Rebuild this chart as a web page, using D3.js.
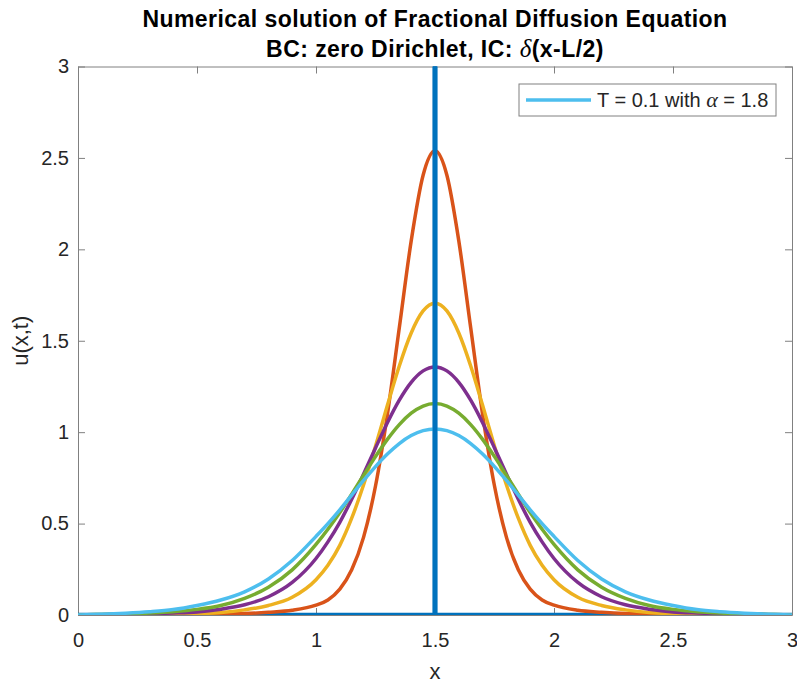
<html lang='en'>
<head>
   <meta charset='UTF-8'>
   <script src='https://d3js.org/d3.v7.min.js'></script>
   <style>
      body{
         margin: 0;
         padding: 0;
         background-color: white;
      }
      text{
         font-family: Arial, 'Liberation Sans', Helvetica, sans-serif;
      }
   </style>
</head>
<body>
   <div id='tavola'></div>
   <script>
   // grid in x and the solution u(x,t) at each time
   var xs = [0, 0.1, 0.2, 0.3, 0.4, 0.5, 0.6, 0.7, 0.8, 0.9, 1, 1.05, 1.1, 1.15, 1.2, 1.25, 1.3, 1.35, 1.4, 1.45, 1.5,
             1.55, 1.6, 1.65, 1.7, 1.75, 1.8, 1.85, 1.9, 1.95, 2, 2.1, 2.2, 2.3, 2.4, 2.5, 2.6, 2.7, 2.8, 2.9, 3];
   var uT002 = [0, 0.0005, 0.001, 0.0016, 0.0024, 0.0034, 0.0052, 0.0079, 0.015, 0.026, 0.054, 0.0823, 0.1415, 0.2471, 0.426, 0.7056, 1.0972, 1.571, 2.0462, 2.405, 2.5391,
                2.405, 2.0462, 1.571, 1.0972, 0.7056, 0.426, 0.2471, 0.1415, 0.0823, 0.054, 0.026, 0.015, 0.0079, 0.0052, 0.0034, 0.0024, 0.0016, 0.001, 0.0005, 0];
   var uT004 = [0, 0.0011, 0.0023, 0.0037, 0.0058, 0.0087, 0.014, 0.028, 0.052, 0.097, 0.193, 0.272, 0.381, 0.5293, 0.7123, 0.9229, 1.1468, 1.3619, 1.5423, 1.6629, 1.7052,
                1.6629, 1.5423, 1.3619, 1.1468, 0.9229, 0.7123, 0.5293, 0.381, 0.272, 0.193, 0.097, 0.052, 0.028, 0.014, 0.0087, 0.0058, 0.0037, 0.0023, 0.0011, 0];
   var uT006 = [0, 0.0019, 0.0041, 0.0069, 0.0108, 0.017, 0.032, 0.056, 0.1, 0.178, 0.309, 0.4, 0.507, 0.6334, 0.7712, 0.9138, 1.052, 1.1752, 1.2727, 1.3353, 1.3569,
                1.3353, 1.2727, 1.1752, 1.052, 0.9138, 0.7712, 0.6334, 0.507, 0.4, 0.309, 0.178, 0.1, 0.056, 0.032, 0.017, 0.0108, 0.0069, 0.0041, 0.0019, 0];
   var uT008 = [0, 0.003, 0.0066, 0.0112, 0.0183, 0.0307, 0.052, 0.091, 0.152, 0.247, 0.386, 0.469, 0.5601, 0.661, 0.7647, 0.8663, 0.9605, 1.0413, 1.1035, 1.1428, 1.1562,
                1.1428, 1.1035, 1.0413, 0.9605, 0.8663, 0.7647, 0.661, 0.5601, 0.469, 0.386, 0.247, 0.152, 0.091, 0.052, 0.0307, 0.0183, 0.0112, 0.0066, 0.003, 0];
   var uT010 = [0, 0.0045, 0.01, 0.0177, 0.0295, 0.052, 0.082, 0.127, 0.197, 0.298, 0.43, 0.5, 0.5756, 0.6562, 0.7361, 0.8119, 0.8803, 0.9378, 0.9814, 1.0085, 1.0177,
                1.0085, 0.9814, 0.9378, 0.8803, 0.8119, 0.7361, 0.6562, 0.5756, 0.5, 0.43, 0.298, 0.197, 0.127, 0.082, 0.052, 0.0295, 0.0177, 0.01, 0.0045, 0];
   // initial condition delta(x-L/2)
   var icX = [0, 1.5, 1.5, 1.5, 3];
   var icU = [0, 0, 40, 0, 0];

   var xTicks = [0, 0.5, 1, 1.5, 2, 2.5, 3];
   var xTickLabels = ['0', '0.5', '1', '1.5', '2', '2.5', '3'];
   var yTicks = [0, 0.5, 1, 1.5, 2, 2.5, 3];
   var yTickLabels = ['0', '0.5', '1', '1.5', '2', '2.5', '3'];
   var legendLabel = 'T = 0.1 with ';

   var series = [uT002, uT004, uT006, uT008, uT010];
   var colors = ['#D95319', '#EDB120', '#7E2F8E', '#77AC30', '#4DBEEE'];
   var icColor = '#0072BD';
   var axisColor = '#808080';
   var textColor = '#262626';

   var W = 797, H = 687;
   var pL = 78, pR = 792, pT = 66.5, pB = 615;

   var svg = d3.select('#tavola').append('svg')
      .attr('width', W)
      .attr('height', H);

   var x = d3.scaleLinear().domain([0, 3]).range([pL, pR]);
   var y = d3.scaleLinear().domain([0, 3]).range([pB, pT]);

   svg.append('clipPath').attr('id', 'plotclip')
      .append('rect')
      .attr('x', pL).attr('y', pT)
      .attr('width', pR - pL).attr('height', pB - pT);

   // axes (box with inward ticks on every side)
   var gx = svg.append('g')
      .attr('transform', 'translate(0,' + pB + ')')
      .call(d3.axisBottom(x).tickValues(xTicks)
         .tickFormat(function(d, i){ return xTickLabels[i]; })
         .tickSizeInner(-7).tickSizeOuter(0).tickPadding(18));
   var gxt = svg.append('g')
      .attr('transform', 'translate(0,' + pT + ')')
      .call(d3.axisTop(x).tickValues(xTicks).tickFormat('')
         .tickSizeInner(-7).tickSizeOuter(0));
   var gy = svg.append('g')
      .attr('transform', 'translate(' + pL + ',0)')
      .call(d3.axisLeft(y).tickValues(yTicks)
         .tickFormat(function(d, i){ return yTickLabels[i]; })
         .tickSizeInner(-7).tickSizeOuter(0).tickPadding(9));
   var gyr = svg.append('g')
      .attr('transform', 'translate(' + pR + ',0)')
      .call(d3.axisRight(y).tickValues(yTicks).tickFormat('')
         .tickSizeInner(-7).tickSizeOuter(0));

   [gx, gxt, gy, gyr].forEach(function(g){
      g.attr('color', axisColor);
      g.select('.domain').attr('stroke-width', 1);
      g.selectAll('text')
         .attr('fill', textColor)
         .attr('font-size', '20px')
         .attr('font-family', 'Arial, Liberation Sans, sans-serif');
   });

   var plot = svg.append('g').attr('clip-path', 'url(#plotclip)');

   var line = d3.line()
      .x(function(d){ return x(d[0]); })
      .y(function(d){ return y(d[1]); });

   var smooth = d3.line()
      .curve(d3.curveMonotoneX)
      .x(function(d){ return x(d[0]); })
      .y(function(d){ return y(d[1]); });

   var icData = icX.map(function(v, i){ return [v, icU[i]]; });

   plot.append('path')
      .attr('d', line(icData))
      .attr('fill', 'none')
      .attr('stroke', icColor)
      .attr('stroke-width', 4.5);

   for (let s = 0; s < series.length; s++) {
      var pts = xs.map(function(v, i){ return [v, series[s][i]]; });
      plot.append('path')
         .attr('d', smooth(pts))
         .attr('fill', 'none')
         .attr('stroke', colors[s])
         .attr('stroke-width', 3.5)
         .attr('stroke-linejoin', 'round');
   }

   // the spike of the initial condition sits over the other curves
   for (let i = 1; i < icData.length; i++) {
      if (icData[i][0] === icData[i - 1][0]) {
         plot.append('path')
            .attr('d', line([icData[i - 1], icData[i]]))
            .attr('fill', 'none')
            .attr('stroke', icColor)
            .attr('stroke-width', 4.5);
      }
   }

   // title
   var title = svg.append('text')
      .attr('x', (pL + pR) / 2)
      .attr('text-anchor', 'middle')
      .attr('font-weight', 'bold')
      .attr('font-size', '23px')
      .attr('letter-spacing', '0.45px')
      .attr('fill', '#000');
   title.append('tspan').attr('x', (pL + pR) / 2).attr('y', 27)
      .text('Numerical solution of Fractional Diffusion Equation');
   var t2 = title.append('tspan').attr('x', (pL + pR) / 2).attr('y', 57);
   t2.append('tspan').text('BC: zero Dirichlet, IC: ');
   t2.append('tspan').attr('font-family', 'Liberation Serif, DejaVu Serif, serif')
      .attr('font-style', 'italic').attr('font-weight', 'normal').attr('font-size', '25px').text('δ');
   t2.append('tspan').text('(x-L/2)');

   // axis labels
   svg.append('text')
      .attr('x', (pL + pR) / 2)
      .attr('y', 679)
      .attr('text-anchor', 'middle')
      .attr('font-size', '22px')
      .attr('fill', textColor)
      .text('x');
   svg.append('text')
      .attr('transform', 'translate(28,' + ((pT + pB) / 2) + ') rotate(-90)')
      .attr('text-anchor', 'middle')
      .attr('font-size', '22px')
      .attr('fill', textColor)
      .text('u(x,t)');

   // legend
   var lg = svg.append('g').attr('transform', 'translate(519,84)');
   lg.append('rect')
      .attr('width', 257).attr('height', 32)
      .attr('fill', 'white')
      .attr('stroke', axisColor)
      .attr('stroke-width', 1);
   lg.append('line')
      .attr('x1', 7).attr('x2', 72)
      .attr('y1', 16).attr('y2', 16)
      .attr('stroke', colors[4])
      .attr('stroke-width', 3.5);
   var lt = lg.append('text')
      .attr('x', 78).attr('y', 23)
      .attr('font-size', '20px')
      .attr('fill', textColor);
   lt.append('tspan').text(legendLabel);
   lt.append('tspan').attr('font-family', 'Liberation Serif, DejaVu Serif, serif')
      .attr('font-style', 'italic').attr('font-size', '22px').text('α');
   lt.append('tspan').text(' = 1.8');
   </script>
</body>
</html>
